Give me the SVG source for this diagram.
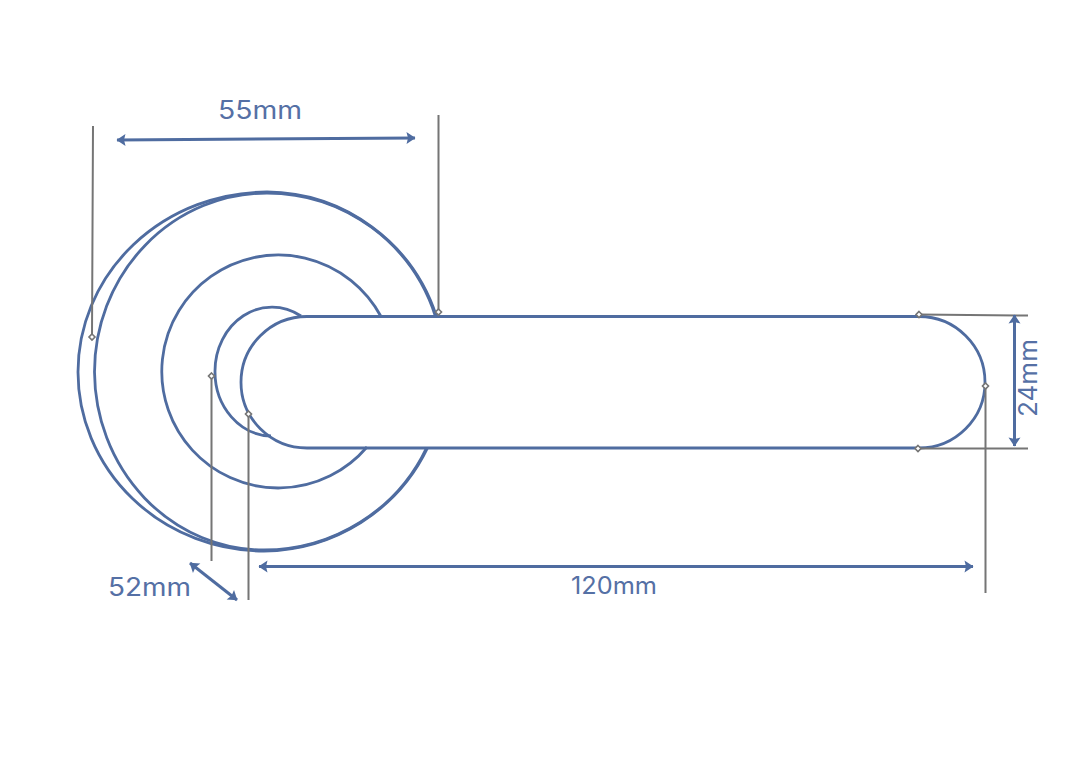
<svg xmlns="http://www.w3.org/2000/svg" width="1080" height="771" viewBox="0 0 1080 771">
<style>
.o{fill:none;stroke:#4f6ca0;stroke-width:2.8}
.g{fill:none;stroke:#757575;stroke-width:2}
.d{fill:#fff;stroke:#757575;stroke-width:1.6}
.a{fill:none;stroke:#4f6ca0;stroke-width:3;marker-start:url(#h);marker-end:url(#h)}
text{font-family:"Inter","Noto Sans","Liberation Sans",sans-serif;fill:#5570a5;font-weight:400}
</style>
<defs>
<marker id="h" viewBox="0 0 14 14" refX="12" refY="7" markerUnits="userSpaceOnUse" markerWidth="14" markerHeight="14" orient="auto-start-reverse">
<path d="M12.500 7L3.500 1L5 7L3.500 13Z" fill="#4f6ca0"/>
</marker>
</defs>
<rect width="1080" height="771" fill="#fff"/>
<g id="rose">
<path class="o" d="M436.500 316.500A180 180 0 0 0 267 192A189 180 0 0 0 78 372A186 179 0 0 0 264 551A183 179 0 0 0 427.500 448"/>
<path class="o" d="M435.500 316.500A177 177 0 0 0 267 193A172.500 179 0 0 0 94.500 372A169.500 179 0 0 0 264 550A180 177 0 0 0 426.500 448"/>
</g>
<g id="collar"><path class="o" d="M381 316.500A116.500 116.500 0 1 0 367 447"/></g>
<g id="neck"><path class="o" d="M301 316A57 64 0 0 0 215 372A57 64 0 0 0 271 436"/></g>
<g id="handle"><rect class="o" x="241" y="316.500" width="744" height="131.500" rx="66" ry="65.750"/></g>
<g id="connectors">
<path class="g" d="M93 126L92 337M438.500 115V312M211.500 376V561M248.500 414V600M985.500 386V593M919 314.500L1028 315.500M918 448.500H1028"/>
<path class="d" d="M92 334L95 337L92 340L89 337ZM438.500 309L441.500 312L438.500 315L435.500 312ZM211.500 373L214.500 376L211.500 379L208.500 376ZM248.500 411L251.500 414L248.500 417L245.500 414ZM985.500 383L988.500 386L985.500 389L982.500 386ZM919 311.500L922 314.500L919 317.500L916 314.500ZM918 445.500L921 448.500L918 451.500L915 448.500Z"/>
<path class="a" d="M117 140L415 138"/>
<path class="a" d="M259 566.500H973"/>
<path class="a" d="M1014.500 315V446"/>
<path class="a" d="M190 563L237 600"/>
</g>
<g id="labels">
<text x="218" y="119" font-size="25" textLength="84" lengthAdjust="spacingAndGlyphs">55mm</text>
<text x="108" y="596" font-size="25" textLength="83" lengthAdjust="spacingAndGlyphs">52mm</text>
<text x="571" y="594" font-size="24" textLength="86" lengthAdjust="spacingAndGlyphs">120mm</text>
<text transform="translate(1036.500 417) rotate(-90)" font-size="25" textLength="78" lengthAdjust="spacingAndGlyphs">24mm</text>
</g>
</svg>
